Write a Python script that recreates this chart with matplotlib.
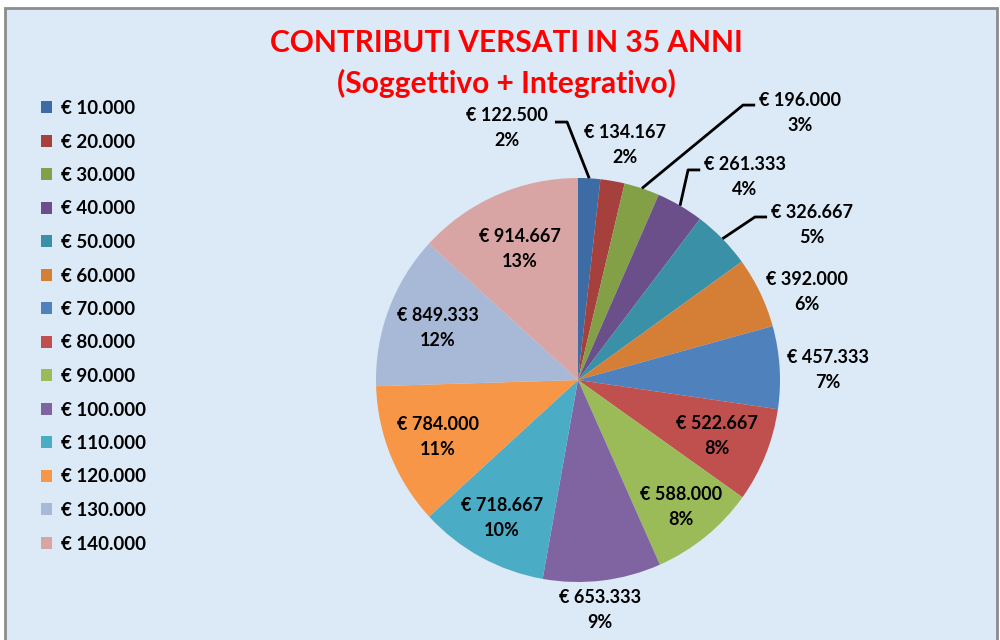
import matplotlib.pyplot as plt
import numpy as np
from matplotlib.patches import Rectangle

plt.rcParams['font.family'] = ['Lato', 'DejaVu Sans']

# data
redditi = ['€ 10.000', '€ 20.000', '€ 30.000', '€ 40.000', '€ 50.000', '€ 60.000', '€ 70.000',
           '€ 80.000', '€ 90.000', '€ 100.000', '€ 110.000', '€ 120.000', '€ 130.000', '€ 140.000']
contributi = [122500, 134167, 196000, 261333, 326667, 392000, 457333,
              522667, 588000, 653333, 718667, 784000, 849333, 914667]
colori = ['#3d6ba3', '#a5403d', '#84a047', '#6a4f8b', '#3a91a7', '#d57f36', '#4f81bd',
          '#c0504d', '#9bbb59', '#8064a2', '#4bacc6', '#f79646', '#a7b9d7', '#d9a5a4']

fig = plt.figure(figsize=(10, 6.4), dpi=100)
fig.patch.set_facecolor('white')
fig.patches.append(Rectangle((0.005, -0.01), 0.992, 0.9975, transform=fig.transFigure,
                             facecolor='#dce9f6', edgecolor='#8c8c8c', linewidth=2, zorder=-5))

# pie centre at (578, 380) px, radius 202 px
s = 202.0
ax = fig.add_axes([0, 0, 1, 1], zorder=1)
ax.patch.set_alpha(0)
wedges, _ = ax.pie(contributi, colors=colori, startangle=90, counterclock=False,
                   radius=1, wedgeprops=dict(linewidth=0))
ax.set_aspect('auto')
ax.set_xlim(-578 / s, (1000 - 578) / s)
ax.set_ylim(-(640 - 380) / s, 380 / s)
ax.axis('off')

tot = sum(contributi)
frac = np.array(contributi) / tot
mid = np.cumsum(frac) - frac / 2
ang = np.deg2rad(90 - 360 * mid)

# label positions (pie units) for the outside labels
fuori = {1: (0.233, 1.163), 5: (1.134, 0.436), 6: (1.238, 0.050), 9: (0.109, -1.139)}
# labels with leader lines: text position, elbow of the line
guide = {0: ((-0.351, 1.248), (-0.054, 1.277), -0.06),
         2: ((1.099, 1.322), (0.817, 1.361), 0.06),
         3: ((0.827, 1.005), (0.545, 1.040), 0.06),
         4: ((1.158, 0.767), (0.876, 0.807), 0.06)}
r_dentro = {7: 0.74, 8: 0.81, 10: 0.78, 11: 0.75, 12: 0.74, 13: 0.71}

for i, v in enumerate(contributi):
    testo = '€ ' + f'{v:,}'.replace(',', '.') + '\n' + f'{round(frac[i] * 100):.0f}%'
    if i in guide:
        (tx, ty), (ex, ey), dx = guide[i]
        ax.plot([np.cos(ang[i]), ex, ex + dx], [np.sin(ang[i]), ey, ey],
                color='black', lw=2, solid_capstyle='butt')
    elif i in fuori:
        tx, ty = fuori[i]
    else:
        tx, ty = r_dentro[i] * np.cos(ang[i]), r_dentro[i] * np.sin(ang[i])
    ax.text(tx, ty, testo, ha='center', va='center', fontsize=13, fontweight='bold',
            linespacing=1.6, color='black')

fig.text(0.506, 1 - 43 / 640, 'CONTRIBUTI VERSATI IN 35 ANNI', ha='center', va='center',
         fontsize=21.5, fontweight='bold', color='#ff0000')
fig.text(0.506, 1 - 83 / 640, '(Soggettivo + Integrativo)', ha='center', va='center',
         fontsize=21.5, fontweight='bold', color='#ff0000')

leg = fig.legend(wedges, redditi, loc='upper left', bbox_to_anchor=(0.041, 1 - 100 / 640),
                 frameon=False, fontsize=13.5, handlelength=0.6, handleheight=0.6,
                 handletextpad=0.45, labelspacing=0.88, borderpad=0, borderaxespad=0)
for t in leg.get_texts():
    t.set_fontweight('bold')

fig.savefig('out.png', dpi=100)
